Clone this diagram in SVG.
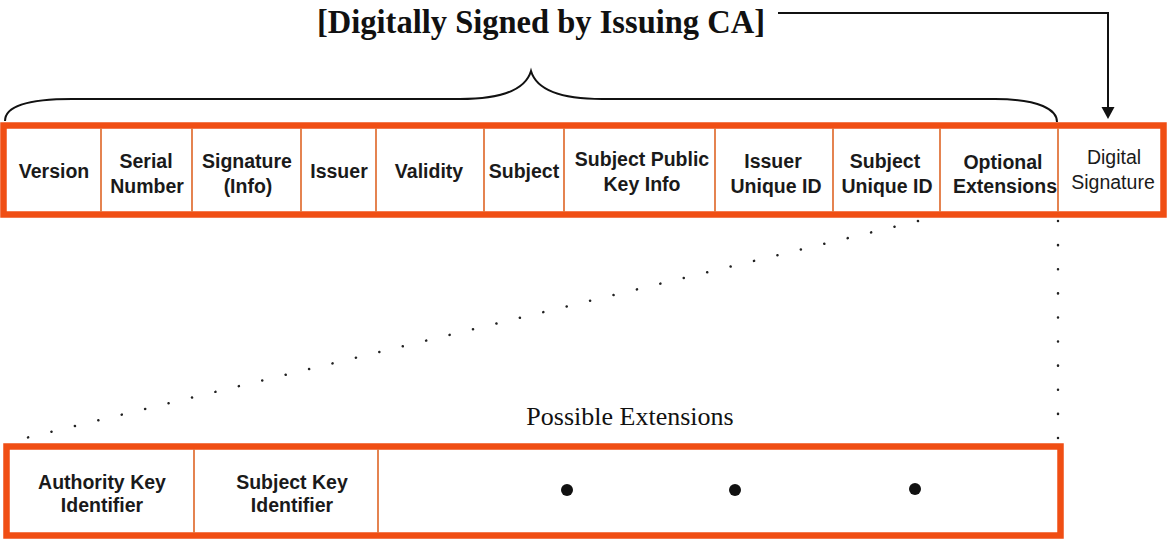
<svg xmlns="http://www.w3.org/2000/svg" width="1169" height="541" viewBox="0 0 1169 541">
  <defs>
    <style>
      .box { fill: #ffffff; stroke: #F04E14; stroke-width: 6.5; }
      .div { stroke: #E2763E; stroke-width: 1.8; fill: none; }
      .lbl { font-family: "Liberation Sans", Arial, sans-serif; font-weight: bold; font-size: 19.5px; fill: #1a1a1a; text-anchor: middle; }
      .lbln { font-family: "Liberation Sans", Arial, sans-serif; font-weight: normal; font-size: 19.5px; fill: #1a1a1a; text-anchor: middle; }
      .title { font-family: "Liberation Serif", "Times New Roman", serif; font-weight: bold; font-size: 34px; fill: #111; text-anchor: middle; }
      .sub { font-family: "Liberation Serif", "Times New Roman", serif; font-size: 26px; fill: #111; text-anchor: middle; }
      .line { stroke: #111; stroke-width: 2; fill: none; }
      .dots { stroke: #222; stroke-width: 2.5; stroke-linecap: round; stroke-dasharray: 0.1 24; fill: none; }
    </style>
  </defs>

  <g id="title">
    <text class="title" x="541" y="32.5" textLength="448" lengthAdjust="spacingAndGlyphs">[Digitally Signed by Issuing CA]</text>
  </g>

  <g id="connectors">
    <path id="brace" class="line" stroke-width="2.6" d="M5,121 C5,107 25,99 72,99 L460,99 C505,99 526,88 531,71 C536,88 557,99 602,99 L995,99 C1040,99 1057,110 1057,122"/>
    <path id="sign-arrow" class="line" d="M778,13 L1108,13 L1108,110"/>
    <path d="M1101.5,107 L1114.5,107 L1108,119 Z" fill="#111"/>
    <path id="dots-diagonal" class="dots" d="M918,221 L5,443"/>
    <path id="dots-vertical" class="dots" d="M1058,221 L1058,443"/>
  </g>

  <g id="certificate">
    <rect class="box" x="3.5" y="125.5" width="1160" height="89"/>
    <g class="div">
      <line x1="101" y1="128" x2="101" y2="212"/>
      <line x1="192" y1="128" x2="192" y2="212"/>
      <line x1="301" y1="128" x2="301" y2="212"/>
      <line x1="376" y1="128" x2="376" y2="212"/>
      <line x1="484" y1="128" x2="484" y2="212"/>
      <line x1="564" y1="128" x2="564" y2="212"/>
      <line x1="715" y1="128" x2="715" y2="212"/>
      <line x1="833" y1="128" x2="833" y2="212"/>
      <line x1="940" y1="128" x2="940" y2="212"/>
      <line x1="1058" y1="128" x2="1058" y2="212"/>
    </g>
  </g>

  <g id="version"><text class="lbl" x="54" y="178">Version</text></g>
  <g id="serial"><text class="lbl" x="146" y="168">Serial</text><text class="lbl" x="147" y="193">Number</text></g>
  <g id="signature-info"><text class="lbl" x="247" y="168">Signature</text><text class="lbl" x="248" y="193">(Info)</text></g>
  <g id="issuer"><text class="lbl" x="339" y="178">Issuer</text></g>
  <g id="validity"><text class="lbl" x="429" y="178">Validity</text></g>
  <g id="subject"><text class="lbl" x="524" y="178">Subject</text></g>
  <g id="subject-pki"><text class="lbl" x="642" y="166">Subject Public</text><text class="lbl" x="642" y="191">Key Info</text></g>
  <g id="issuer-uid"><text class="lbl" x="773" y="168">Issuer</text><text class="lbl" x="776" y="193">Unique ID</text></g>
  <g id="subject-uid"><text class="lbl" x="885" y="168">Subject</text><text class="lbl" x="887" y="193">Unique ID</text></g>
  <g id="optional-ext"><text class="lbl" x="1003" y="169">Optional</text><text class="lbl" x="1005" y="193">Extensions</text></g>
  <g id="digital-signature"><text class="lbln" x="1114" y="164">Digital</text><text class="lbln" x="1113" y="189">Signature</text></g>

  <g id="possible-extensions-label">
    <text class="sub" x="630" y="425">Possible Extensions</text>
  </g>

  <g id="extensions">
    <rect class="box" x="6.5" y="446.5" width="1054" height="89"/>
    <g class="div">
      <line x1="194" y1="449" x2="194" y2="533"/>
      <line x1="378" y1="449" x2="378" y2="533"/>
    </g>
  </g>
  <g id="authority-key-id"><text class="lbl" x="102" y="489">Authority Key</text><text class="lbl" x="102" y="512">Identifier</text></g>
  <g id="subject-key-id"><text class="lbl" x="292" y="489">Subject Key</text><text class="lbl" x="292" y="512">Identifier</text></g>
  <g id="more-extensions">
    <circle cx="567" cy="490" r="6" fill="#111"/>
    <circle cx="735" cy="490" r="6" fill="#111"/>
    <circle cx="915" cy="489" r="6" fill="#111"/>
  </g>
</svg>
